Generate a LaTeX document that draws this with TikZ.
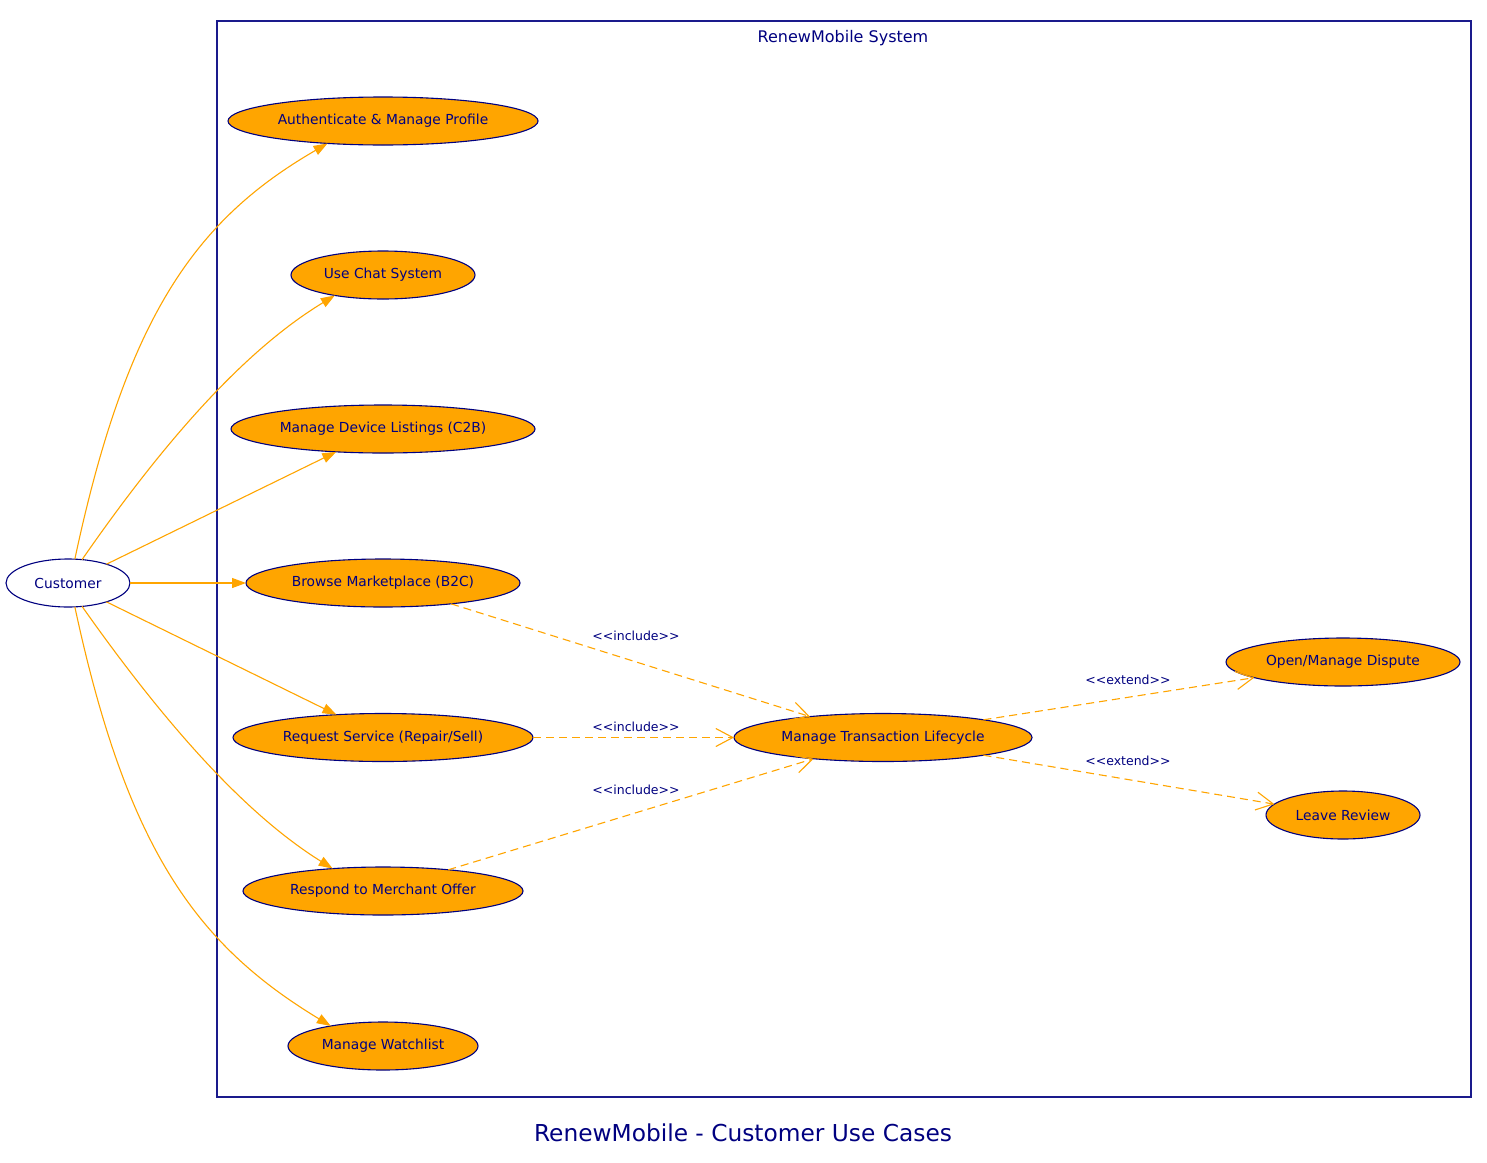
\documentclass[tikz,border=0pt]{standalone}
\usepackage{fontspec}
\setmainfont{DejaVu Sans}
\usetikzlibrary{shapes.geometric,arrows.meta}
\definecolor{uorange}{HTML}{FFA500}
\definecolor{unavy}{HTML}{000080}
\definecolor{uframe}{HTML}{1A1A8C}
\begin{document}
\begin{tikzpicture}[x=1pt,y=-1pt,
 uc/.style={ellipse,draw=unavy,fill=uorange,text=unavy,line width=1.1pt,inner sep=0pt,outer sep=0pt,minimum height=48pt,font=\fontsize{13.8}{16}\selectfont},
 actor/.style={uc,fill=white},
 assoc/.style={draw=uorange,line width=1.1pt,-{Triangle[length=14pt,width=10pt]}},
 dep/.style={draw=uorange,line width=1.1pt,dash pattern=on 8pt off 5pt,-{Straight Barb[length=17pt,width=18pt]}},
 lbl/.style={text=unavy,font=\fontsize{12.5}{14}\selectfont,inner sep=0pt}]
\useasboundingbox (0,0) rectangle (1487,1162);
\fill[white] (0,0) rectangle (1487,1162);
% system frame
\node[draw=uframe,line width=1.2pt,minimum width=1254pt,minimum height=1076pt,inner sep=0pt,outer sep=0pt] (sys) at (844,559) {};
\node[lbl,font=\fontsize{16}{18}\selectfont] (systitle) at (843,38) {RenewMobile System};
% actor
\node[actor,minimum width=124pt] (cust) at (68,583) {Customer};
% use cases
\node[uc,minimum width=310pt] (auth) at (383,121) {Authenticate \& Manage Profile};
\node[uc,minimum width=184pt] (chat) at (383,275) {Use Chat System};
\node[uc,minimum width=304pt] (dev) at (383,429) {Manage Device Listings (C2B)};
\node[uc,minimum width=274pt] (browse) at (383,583) {Browse Marketplace (B2C)};
\node[uc,minimum width=300pt] (req) at (383,737.5) {Request Service (Repair/Sell)};
\node[uc,minimum width=280pt] (resp) at (383,891) {Respond to Merchant Offer};
\node[uc,minimum width=190pt] (watch) at (383,1046) {Manage Watchlist};
\node[uc,minimum width=298pt] (trans) at (883,737.5) {Manage Transaction Lifecycle};
\node[uc,minimum width=234pt] (disp) at (1343,662) {Open/Manage Dispute};
\node[uc,minimum width=154pt] (rev) at (1343,815) {Leave Review};
% associations
\draw[assoc] (cust.74) .. controls (127,314) and (197,219) .. (auth.202);
\draw[assoc] (cust.59) .. controls (165,440) and (245,350) .. (chat.203);
\draw[assoc] (cust) -- (dev);
\draw[assoc] (cust) -- (browse);
\draw[assoc] (cust) -- (req);
\draw[assoc] (cust.-59) .. controls (165,724) and (245,814) .. (resp.156);
\draw[assoc] (cust.-74) .. controls (127,850) and (197,945) .. (watch.159);
% includes
\draw[dep] (browse.-17) -- (trans.164);
\draw[dep] (req) -- (trans);
\draw[dep] (resp.18) -- (trans.197);
\node[lbl] (l1) at (636,636) {<{}<include>{}>};
\node[lbl] (l2) at (636,727) {<{}<include>{}>};
\node[lbl] (l3) at (636,790) {<{}<include>{}>};
% extends
\draw[dep] (trans.10) -- (disp.190);
\draw[dep] (trans.-10) -- (rev.171);
\node[lbl] (l4) at (1128,680) {<{}<extend>{}>};
\node[lbl] (l5) at (1128,761) {<{}<extend>{}>};
% caption
\node[text=unavy,font=\fontsize{23.3}{26}\selectfont,inner sep=0pt] (caption) at (743,1133) {RenewMobile - Customer Use Cases};
\end{tikzpicture}
\end{document}
